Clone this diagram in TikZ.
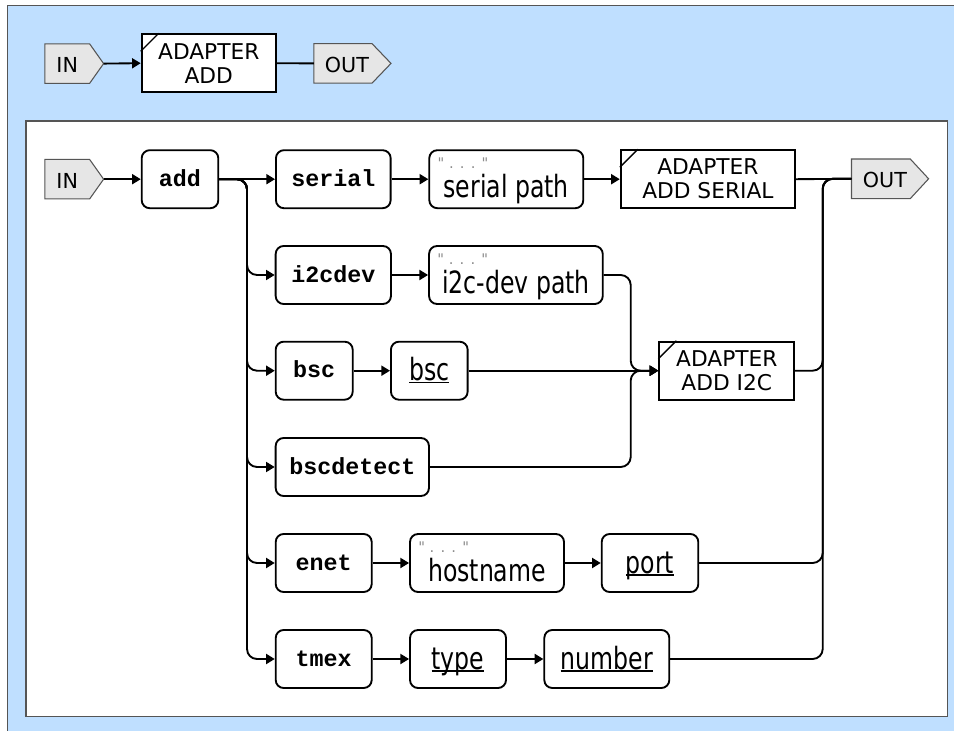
\documentclass[tikz,border=0pt]{standalone}
\usepackage{graphicx}
\usepackage{fontspec}
\setmainfont{DejaVu Sans}
\newfontfamily\cmdfont{Liberation Mono}
% straight quotation marks, no TeX input mapping
\newfontfamily\quotefont{DejaVu Sans}[Ligatures=TeXOff]
\usetikzlibrary{arrows.meta}
\definecolor{panelblue}{RGB}{191,223,255}
\definecolor{tagfill}{RGB}{230,230,230}
\definecolor{framegray}{RGB}{85,85,85}
\definecolor{quotegray}{RGB}{140,140,140}
% one screen pixel
\def\px{0.75pt}
% narrow argument lettering
\newcommand\argtxt[1]{\scalebox{0.77}[1]{#1}}
% underline that sits just under the baseline, through the descenders
\newcommand\argul[1]{\setbox0=\hbox{\argtxt{#1}}\rlap{\vrule height -0.8pt depth 2pt width \wd0}\box0}
\pgfdeclarelayer{back}
\pgfdeclarelayer{mid}
\pgfsetlayers{back,mid,main}
% pentagon outline behind a tag node, plus a coordinate at its tip
\newcommand\tagshape[2]{%
  \begin{pgfonlayer}{mid}
    \filldraw[tagline] (#1.north west) -- (#1.north east) -- ([xshift=#2*\px]#1.east)
      -- (#1.south east) -- (#1.south west) -- cycle;
  \end{pgfonlayer}
  \coordinate (#1-tip) at ([xshift=#2*\px]#1.east);}
\begin{document}
\begin{tikzpicture}[x=0.75pt,y=-0.75pt,
  line/.style={line width=1.4pt, draw=black},
  arr/.style={line, -{Triangle[length=6.5pt,width=7.5pt]}},
  rc/.style={rounded corners=7.5pt},
  cmdbox/.style={draw, line width=1.4pt, rounded corners=6pt, fill=white,
    minimum height=58*\px, inner sep=0pt,
    font=\cmdfont\bfseries\fontsize{17.5}{20}\selectfont,
    text height=10.5pt, text depth=0pt},
  argbox/.style={cmdbox, font=\fontsize{23}{26}\selectfont, text height=15pt},
  strbox/.style={argbox, text height=27.5pt},
  adbox/.style={draw, line width=1.4pt, fill=white, minimum height=58*\px,
    inner sep=0pt, align=center, font=\fontsize{16.3}{18}\selectfont},
  tagtext/.style={inner sep=0pt, minimum height=39*\px,
    font=\fontsize{15.5}{18}\selectfont, text height=13.3pt, text depth=0pt},
  tagline/.style={draw=framegray, line width=0.8pt, fill=tagfill},
  qlabel/.style={inner sep=0pt, text=quotegray, font=\quotefont\fontsize{11}{12}\selectfont},
  slash/.style={line width=1pt}]
\useasboundingbox (0,0) rectangle (954,731);

% panels
\begin{pgfonlayer}{back}
  \draw[framegray, line width=0.8pt, fill=panelblue] (7.5,5.5) rectangle (964,741);
  \draw[framegray, line width=0.9pt, fill=white] (26,121) rectangle (947.3,716.5);
\end{pgfonlayer}

% summary row
\node[tagtext, minimum width=44.3*\px] (tin) at (67.2,63.6) {IN};
\tagshape{tin}{14}
\node[adbox, minimum width=134.3*\px] (tadd) at (208.8,63.2) {ADAPTER\\ADD};
\node[tagtext, minimum width=57.7*\px] (tout) at (342.9,63.4) {\hspace{6pt}OUT};
\tagshape{tout}{19}

% detailed syntax
\node[tagtext, minimum width=44.3*\px] (iin) at (67.2,179.2) {IN};
\tagshape{iin}{14}
\node[cmdbox, minimum width=76.6*\px] (add) at (180,179.2) {add};
\node[cmdbox, minimum width=114.7*\px] (serial) at (333.3,179.2) {serial};
\node[strbox, minimum width=154*\px] (sp) at (506.3,179.2) {\argtxt{serial path}};
\node[adbox, minimum width=174.3*\px] (aser) at (707.9,179.2) {ADAPTER\\ADD SERIAL};
\node[tagtext, minimum width=58.3*\px] (iout) at (880.9,178.8) {\hspace{6pt}OUT};
\tagshape{iout}{18.3}

\node[cmdbox, minimum width=115.3*\px] (i2cdev) at (333.3,275) {i2cdev};
\node[strbox, minimum width=173.7*\px] (i2cp) at (515.9,275) {\argtxt{i2c-dev path}};

\node[cmdbox, minimum width=77*\px] (bsc) at (314.2,370.7) {bsc};
\node[argbox, minimum width=76.7*\px] (bscarg) at (429.3,370.7) {\argul{bsc}};
\node[adbox, minimum width=135*\px] (ai2c) at (726.8,370.7) {ADAPTER\\ADD I2C};

\node[cmdbox, minimum width=153.3*\px] (bscdetect) at (352.3,467) {bscdetect};

\node[cmdbox, minimum width=96*\px] (enet) at (323.7,563) {enet};
\node[strbox, minimum width=154*\px] (host) at (487,563) {\argtxt{hostname}};
\node[argbox, minimum width=96.6*\px] (port) at (650,563) {\argul{port}};

\node[cmdbox, minimum width=96*\px] (tmex) at (323.7,659) {tmex};
\node[argbox, minimum width=96*\px] (type) at (458,659) {\argul{type}};
\node[argbox, minimum width=125*\px] (number) at (606.8,659) {\argul{number}};

% quoted-string markers
\foreach \n in {sp,i2cp,host}
  \node[qlabel, anchor=north west] (\n-q) at ([shift={(9,8)}]\n.north west) {" . . . "};

% corner marks of the adapter boxes
\foreach \n in {tadd,aser,ai2c}
  \draw[slash] ([yshift=-18*\px]\n.north west) -- ([xshift=18*\px]\n.north west);

% bus lines
\coordinate (lb) at (247,179.2);
\coordinate (mb) at (630.7,275);
\coordinate (ob) at (822.7,179.2);

% connectors
\draw[arr] (tin-tip) -- (tadd.west);
\draw[line] (tadd.east) -- (tout.west);

\draw[arr] (iin-tip) -- (add.west);
\draw[arr] (add.east) -- (serial.west);
\foreach \n in {i2cdev,bsc,bscdetect,enet,tmex}
  \draw[arr, rc] (add.east) -- (lb) |- (\n.west);

\draw[arr] (serial.east) -- (sp.west);
\draw[arr] (sp.east) -- (aser.west);
\draw[line] (aser.east) -- (iout.west);

\draw[arr] (i2cdev.east) -- (i2cp.west);
\draw[arr, rc] (i2cp.east) -- (i2cp.east -| mb) |- (ai2c.west);
\draw[arr] (bsc.east) -- (bscarg.west);
\draw[arr] (bscarg.east) -- (ai2c.west);
\draw[arr, rc] (bscdetect.east) -- (bscdetect.east -| mb) |- (ai2c.west);

\draw[arr] (enet.east) -- (host.west);
\draw[arr] (host.east) -- (port.west);
\draw[arr] (tmex.east) -- (type.west);
\draw[arr] (type.east) -- (number.west);

\foreach \n in {ai2c,port,number}
  \draw[line, rc] (\n.east) -- (\n.east -| ob) |- (iout.west);
\end{tikzpicture}
\end{document}
